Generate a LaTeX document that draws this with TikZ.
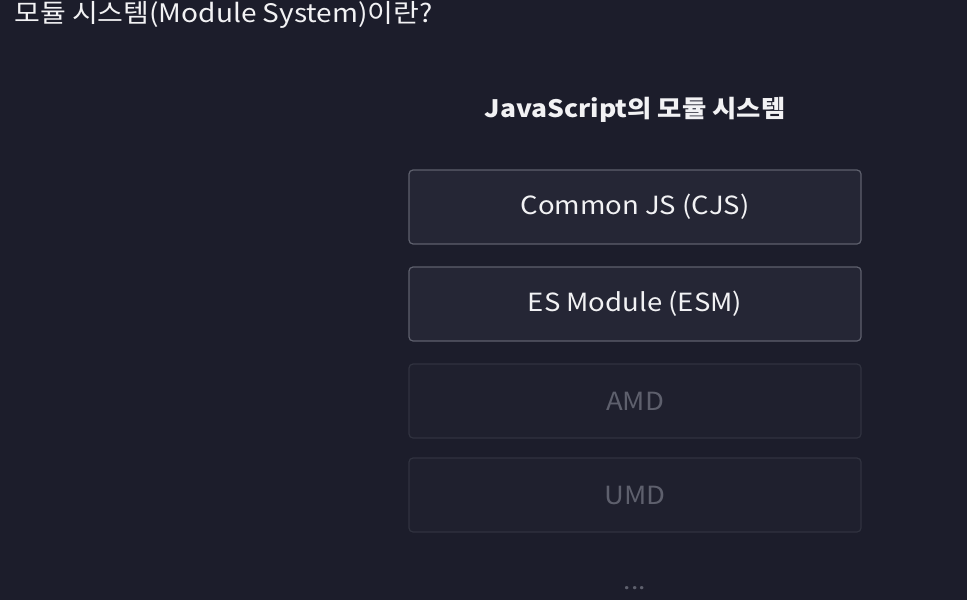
\documentclass[tikz,border=0pt]{standalone}
\usepackage{fontspec}
\setmainfont{Noto Sans CJK KR}[FakeStretch=1.1]
\definecolor{bg}{HTML}{1C1D2B}
\definecolor{boxfill}{HTML}{252635}
\definecolor{boxline}{HTML}{5E606D}
\definecolor{dimfill}{HTML}{1F202E}
\definecolor{dimline}{HTML}{30323F}
\definecolor{txt}{HTML}{F2F2F4}
\definecolor{dimtxt}{HTML}{5E606D}
\tikzset{
  mainbox/.style={draw=boxline, fill=boxfill, line width=1.2pt, rounded corners=4pt,
    minimum width=452pt, minimum height=74pt, inner sep=0pt, text=txt,
    font=\fontsize{25}{30}\selectfont},
  dimbox/.style={draw=dimline, fill=dimfill, line width=1.2pt, rounded corners=4pt,
    minimum width=452pt, minimum height=74pt, inner sep=0pt, text=dimtxt,
    font=\fontsize{25}{30}\selectfont},
}
\begin{document}
\begin{tikzpicture}[x=1pt,y=-1pt]
\fill[bg] (0,0) rectangle (967,600);
\useasboundingbox (0,0) rectangle (967,600);
\node[anchor=west, text=txt, inner sep=0pt, font=\fontsize{25.5}{30}\selectfont] (title) at (14,15) {모듈 시스템(Module System)이란?};
\node[text=txt, inner sep=0pt, font=\fontsize{24}{29}\selectfont\bfseries] (sub) at (635,110) {JavaScript의 모듈 시스템};
\node[mainbox] (cjs) at (635,207) {Common JS (CJS)};
\node[mainbox] (esm) at (635,304) {ES Module (ESM)};
\node[dimbox] (amd) at (635,401) {AMD};
\node[dimbox] (umd) at (635,495) {UMD};
\node[text=dimtxt, inner sep=0pt, font=\fontsize{24}{28}\selectfont] (dots) at (635,588) {...};
\end{tikzpicture}
\end{document}
